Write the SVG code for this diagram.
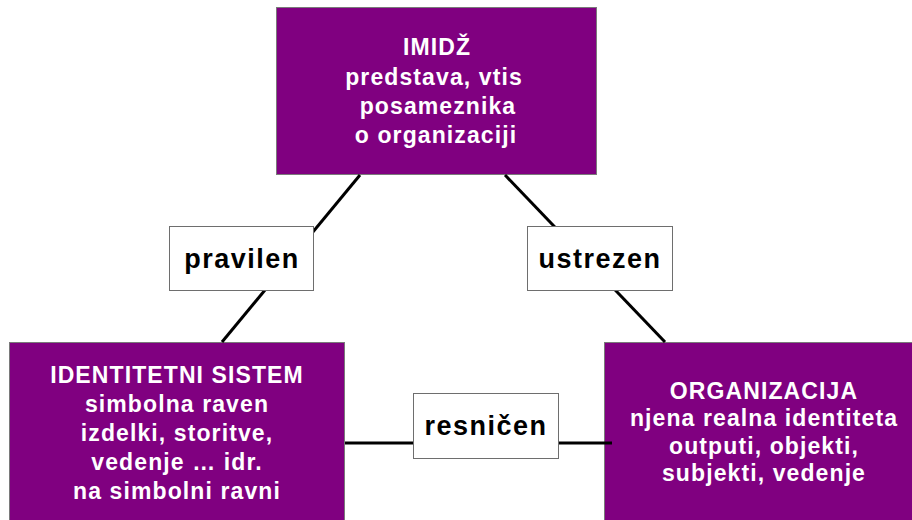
<svg xmlns="http://www.w3.org/2000/svg" width="912" height="520" viewBox="0 0 912 520">
  <style>
    .node { fill: #800080; stroke: #7a7a7a; stroke-width: 1; }
    .node-text { fill: #ffffff; font-family: "Liberation Sans", Arial, sans-serif; font-weight: bold; font-size: 23px; letter-spacing: 1.1px; text-anchor: middle; }
    .link { stroke: #000000; stroke-width: 3; fill: none; }
    .tag { fill: #ffffff; stroke: #6e6e6e; stroke-width: 1; }
    .tag-text { fill: #000000; font-family: "Liberation Sans", Arial, sans-serif; font-weight: bold; font-size: 27px; letter-spacing: 1.5px; text-anchor: middle; }
  </style>

  <rect width="912" height="520" fill="#ffffff"/>

  <!-- top: image -->
  <g id="imidz">
    <rect class="node" x="276.5" y="7.5" width="320" height="167"/>
    <text class="node-text" x="437" y="55">IMIDŽ</text>
    <text class="node-text" x="434" y="84.5">predstava, vtis</text>
    <text class="node-text" x="438" y="114">posameznika</text>
    <text class="node-text" x="436" y="143">o organizaciji</text>
  </g>

  <!-- bottom left: identity system -->
  <g id="identitetni-sistem">
    <rect class="node" x="9.5" y="342.5" width="335" height="180"/>
    <text class="node-text" x="177" y="383">IDENTITETNI SISTEM</text>
    <text class="node-text" x="177" y="412">simbolna raven</text>
    <text class="node-text" x="177" y="441">izdelki, storitve,</text>
    <text class="node-text" x="177" y="470">vedenje … idr.</text>
    <text class="node-text" x="177" y="499">na simbolni ravni</text>
  </g>

  <!-- bottom right: organisation -->
  <g id="organizacija">
    <rect class="node" x="604.5" y="342.5" width="320" height="180"/>
    <text class="node-text" x="764" y="398.5">ORGANIZACIJA</text>
    <text class="node-text" x="764" y="426">njena realna identiteta</text>
    <text class="node-text" x="764" y="453.5">outputi, objekti,</text>
    <text class="node-text" x="764" y="481">subjekti, vedenje</text>
  </g>

  <!-- connecting lines with their labels -->
  <g id="connectors">
    <line class="link" x1="360" y1="175" x2="222" y2="342"/>
    <line class="link" x1="505" y1="175" x2="665" y2="342"/>
    <line class="link" x1="345" y1="443" x2="612" y2="443"/>

    <g id="label-pravilen">
      <rect class="tag" x="169.5" y="226.5" width="144" height="64"/>
      <text class="tag-text" x="242" y="268">pravilen</text>
    </g>
    <g id="label-ustrezen">
      <rect class="tag" x="527.5" y="226.5" width="145" height="64"/>
      <text class="tag-text" x="600" y="268">ustrezen</text>
    </g>
    <g id="label-resnicen">
      <rect class="tag" x="413.5" y="393.5" width="145" height="65"/>
      <text class="tag-text" x="486" y="435">resničen</text>
    </g>
  </g>
</svg>
